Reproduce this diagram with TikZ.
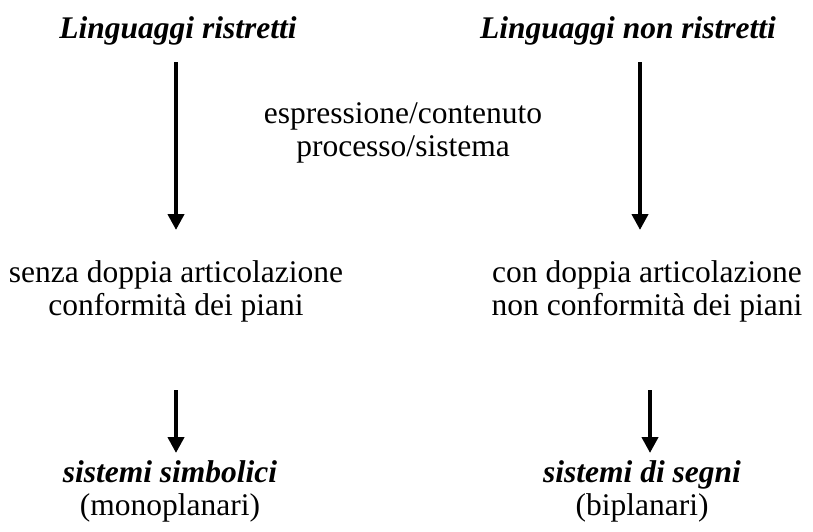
\documentclass[tikz,border=0pt]{standalone}
\usepackage{fontspec}
\setmainfont{Liberation Serif}
\usetikzlibrary{arrows.meta}
\tikzset{
  txt/.style={font=\fontsize{31.5}{33}\selectfont,align=center,inner sep=0pt},
  head/.style={txt,font=\fontsize{31.5}{33}\selectfont\bfseries\itshape},
  arr/.style={line width=4.5pt,-{Triangle[width=16pt,length=16pt]}}
}
\begin{document}
\begin{tikzpicture}[x=1pt,y=-1pt]
\useasboundingbox (0,0) rectangle (813,531);
\node[head,anchor=base] (lr) at (178,38) {Linguaggi ristretti};
\node[head,anchor=base] (lnr) at (628,38) {Linguaggi non ristretti};
\node[txt] (mid) at (403,133) {espressione/contenuto\\processo/sistema};
\node[txt] (senza) at (176,291) {senza doppia articolazione\\conformità dei piani};
\node[txt] (con) at (647,291) {con doppia articolazione\\non conformità dei piani};
\node[txt] (simb) at (170,491) {{\bfseries\itshape sistemi simbolici}\\(monoplanari)};
\node[txt] (segni) at (642,491) {{\bfseries\itshape sistemi di segni}\\(biplanari)};
% arrow ends
\coordinate (a1) at (176,62);  \coordinate (b1) at (176,230);
\coordinate (a2) at (640,62);  \coordinate (b2) at (640,230);
\coordinate (a3) at (176,390); \coordinate (b3) at (176,453);
\coordinate (a4) at (650,390); \coordinate (b4) at (650,453);
\foreach \i in {1,...,4} {
  \draw[arr] (a\i) -- (b\i);
}
\end{tikzpicture}
\end{document}
